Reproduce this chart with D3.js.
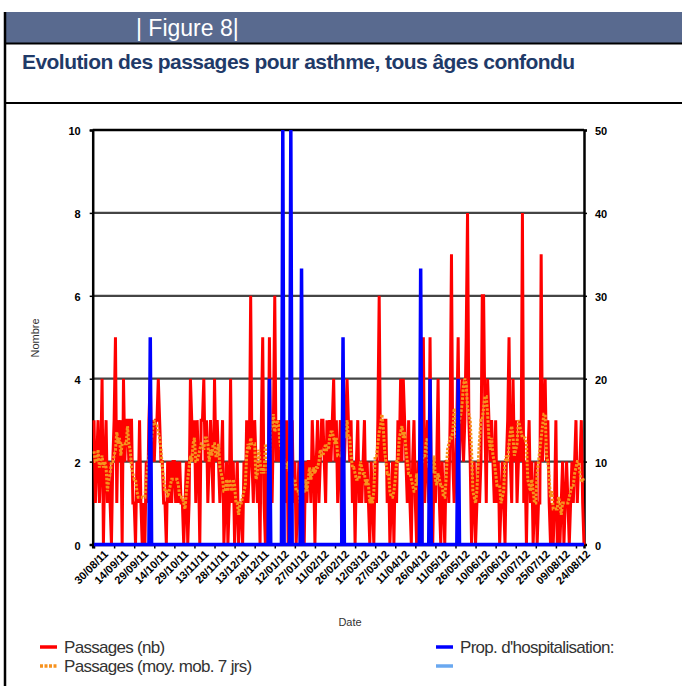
<!DOCTYPE html>
<html>
<head>
<meta charset="utf-8">
<script src="https://cdn.jsdelivr.net/npm/d3@7"></script>
<style>
  html, body { margin: 0; padding: 0; background: #fff; }
  svg { display: block; font-family: "Liberation Sans", Arial, sans-serif; }
</style>
</head>
<body>
<script>
// daily counts, 30/08/11 -> 30/08/12
var passages = [
  3,1,2,3,1,2,4,0,2,3,1,2,1,0,
  2,3,5,1,3,2,3,0,4,2,3,3,2,3,3,1,
  1,0,2,1,3,1,0,1,
  0,2,1,3,4,2,3,2,3,3,4,3,2,
  2,1,1,0,2,1,2,1,2,2,1,2,1,2,1,1,0,1,2,0,1,4,
  3,2,3,1,3,2,0,3,3,4,
  2,3,1,2,3,2,1,4,2,3,2,1,2,3,0,
  1,2,0,1,4,1,2,
  0,1,2,0,1,1,0,2,1,3,
  1,2,6,2,1,3,2,
  1,2,0,3,5,1,0,2,1,5,2,1,3,6,2,3,
  2,3,2,2,3,1,3,0,2,2,3,1,2,0,
  1,2,0,3,1,0,2,1,2,
  2,1,3,2,0,2,3,1,2,3,
  3,2,1,3,2,3,2,3,4,2,3,
  1,2,3,0,4,2,3,4,3,2,
  3,1,2,0,2,3,1,2,1,2,3,1,
  2,1,0,2,1,0,2,1,
  3,6,2,3,2,3,3,
  1,2,0,1,2,0,2,1,
  3,2,4,2,4,3,2,1,3,
  1,0,2,3,1,0,
  2,1,3,0,5,1,2,3,1,
  5,1,0,2,1,2,
  4,1,0,2,1,0,2,
  2,1,3,7,2,1,2,3,5,
  2,3,4,2,3,5,8,3,2,
  0,1,2,0,1,2,1,
  2,6,6,3,1,4,3,2,3,2,1,3,
  1,2,0,1,2,1,0,2,3,
  5,2,1,4,2,3,1,2,3,2,
  8,1,2,0,2,3,1,2,
  0,1,2,0,1,1,
  7,2,3,4,2,3,1,
  0,1,0,1,3,0,1,0,
  1,2,0,1,2,1,0,1,2,
  1,2,3,1,2,2,3,1,0
];
// days (offset from start) with a hospitalisation, and the proportion in %
var hospDays = [42, 131, 141, 147, 155, 186, 244, 251, 272];
var hospProp = [25, 20, 50, 50, 33.3, 25, 33.3, 20, 20];

var tickLabels = ["30/08/11","14/09/11","29/09/11","14/10/11","29/10/11","13/11/11",
  "28/11/11","13/12/11","28/12/11","12/01/12","27/01/12","11/02/12","26/02/12",
  "12/03/12","27/03/12","11/04/12","26/04/12","11/05/12","26/05/12","10/06/12",
  "25/06/12","10/07/12","25/07/12","09/08/12","24/08/12"];
var leftTicks = [0, 2, 4, 6, 8, 10];
var rightTicks = [0, 10, 20, 30, 40, 50];

var W = 682, H = 686;
var parse = d3.timeParse("%d/%m/%y");
var start = parse(tickLabels[0]);

var rows = passages.map(function(v, i) {
  return { date: d3.timeDay.offset(start, i), nb: v, prop: 0 };
});
hospDays.forEach(function(d, i) { rows[d].prop = hospProp[i]; });
// 7 day moving average of the counts
rows.forEach(function(r, i) {
  r.avg = d3.mean(passages.slice(Math.max(0, i - 3), i + 4));
});

var svg = d3.select("body").append("svg")
  .attr("width", W).attr("height", H);

// frame / header
svg.append("rect").attr("x", 4).attr("y", 12).attr("width", W - 4).attr("height", 31)
  .attr("fill", "#596a8f");
svg.append("text").attr("x", 136).attr("y", 36)
  .attr("fill", "#fff").attr("font-size", 23).text("| Figure 8|");
svg.append("line").attr("x1", 4).attr("x2", W).attr("y1", 43.5).attr("y2", 43.5)
  .attr("stroke", "#000").attr("stroke-width", 2);
svg.append("line").attr("x1", 4).attr("x2", W).attr("y1", 103).attr("y2", 103)
  .attr("stroke", "#000").attr("stroke-width", 2);
svg.append("line").attr("x1", 5).attr("x2", 5).attr("y1", 12).attr("y2", H)
  .attr("stroke", "#000").attr("stroke-width", 2.5);
svg.append("text").attr("x", 22).attr("y", 69)
  .attr("fill", "#1f3a68").attr("font-size", 21).attr("font-weight", "bold")
  .attr("letter-spacing", -0.55)
  .text("Evolution des passages pour asthme, tous âges confondu");

// scales
var x = d3.scaleTime()
  .domain([d3.timeDay.offset(start, -1), d3.timeDay.offset(start, 366)])
  .range([92.7, 584]);
var yL = d3.scaleLinear().domain([0, 10]).range([544.5, 130]);
var yR = d3.scaleLinear().domain([0, 50]).range([544.5, 130]);

// grid
svg.append("g").selectAll("line").data(leftTicks.slice(1)).enter().append("line")
  .attr("x1", x.range()[0]).attr("x2", x.range()[1])
  .attr("y1", function(d) { return yL(d); }).attr("y2", function(d) { return yL(d); })
  .attr("stroke", function(d) { return d === 10 ? "#000" : "#444"; })
  .attr("stroke-width", function(d) { return d === 10 ? 2.5 : 2.2; });

// axes
var gL = svg.append("g").attr("transform", "translate(" + x.range()[0] + ",0)")
  .call(d3.axisLeft(yL).tickValues(leftTicks).tickSize(3).tickPadding(9));
var gR = svg.append("g").attr("transform", "translate(" + x.range()[1] + ",0)")
  .call(d3.axisRight(yR).tickValues(rightTicks).tickSize(3).tickPadding(8));
var gX = svg.append("g").attr("transform", "translate(0," + yL(0) + ")")
  .call(d3.axisBottom(x).tickValues(tickLabels.map(parse))
    .tickFormat(d3.timeFormat("%d/%m/%y")).tickSize(4).tickPadding(3));

[gL, gR, gX].forEach(function(g) {
  g.select(".domain").attr("stroke", "#000").attr("stroke-width", 2.5);
  g.selectAll(".tick line").attr("stroke", "#000").attr("stroke-width", 1.5);
  g.selectAll("text").attr("fill", "#000").attr("font-family", "Liberation Sans, Arial, sans-serif")
    .attr("font-weight", "bold");
});
gL.selectAll("text").attr("font-size", 11).attr("dy", "0.45em");
gR.selectAll("text").attr("font-size", 11).attr("dy", "0.45em");
gX.selectAll("text").attr("font-size", 11)
  .attr("text-anchor", "end")
  .attr("dx", "0.25em").attr("dy", "0.95em")
  .attr("transform", "rotate(-45)");

svg.append("text").attr("transform", "translate(39,338) rotate(-90)")
  .attr("text-anchor", "middle").attr("font-size", 11).attr("fill", "#333").text("Nombre");
svg.append("text").attr("x", 350).attr("y", 626)
  .attr("text-anchor", "middle").attr("font-size", 11).attr("fill", "#333").text("Date");

// series
var lineNb = d3.line().x(function(d) { return x(d.date); }).y(function(d) { return yL(d.nb); });
var lineAvg = d3.line().x(function(d) { return x(d.date); }).y(function(d) { return yL(d.avg); });
var lineProp = d3.line().x(function(d) { return x(d.date); }).y(function(d) { return yR(d.prop); });

svg.append("path").datum(rows).attr("d", lineNb)
  .attr("fill", "none").attr("stroke", "#ff0000").attr("stroke-width", 3);
svg.append("path").datum(rows).attr("d", lineAvg)
  .attr("fill", "none").attr("stroke", "#f7921e").attr("stroke-width", 3)
  .attr("stroke-dasharray", "2.5,1.5");
svg.append("path").datum(rows).attr("d", lineProp)
  .attr("fill", "none").attr("stroke", "#0000ff").attr("stroke-width", 3.5);

// legend
var legend = [
  { x: 40, y: 647, color: "#ff0000", dash: null, label: "Passages (nb)" },
  { x: 40, y: 666, color: "#f7921e", dash: "3,1.5", label: "Passages (moy. mob. 7 jrs)" },
  { x: 436, y: 647, color: "#0000ff", dash: null, label: "Prop. d'hospitalisation:" },
  { x: 436, y: 666, color: "#6aa8f0", dash: null, label: "" }
];
var lg = svg.append("g").selectAll("g").data(legend).enter().append("g");
lg.append("line")
  .attr("x1", function(d) { return d.x; }).attr("x2", function(d) { return d.x + 17; })
  .attr("y1", function(d) { return d.y; }).attr("y2", function(d) { return d.y; })
  .attr("stroke", function(d) { return d.color; }).attr("stroke-width", 3.5)
  .attr("stroke-dasharray", function(d) { return d.dash; });
lg.append("text")
  .attr("x", function(d) { return d.x + 24; }).attr("y", function(d) { return d.y + 6; })
  .attr("font-size", 17).attr("fill", "#333").attr("letter-spacing", -0.7)
  .text(function(d) { return d.label; });
</script>
</body>
</html>
